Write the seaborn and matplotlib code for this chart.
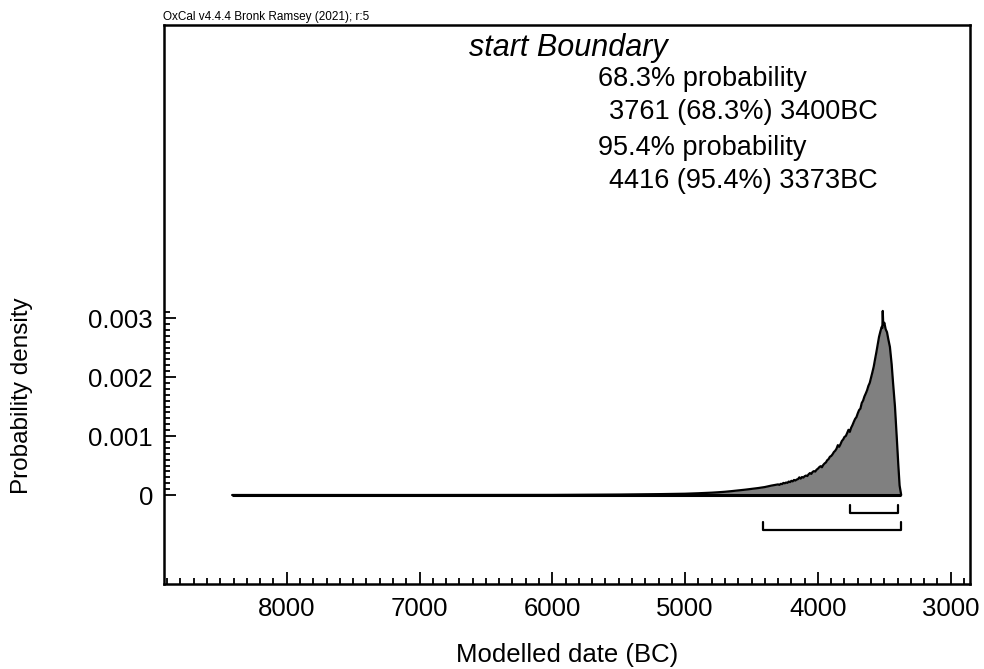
import numpy as np
import pandas as pd
import matplotlib
matplotlib.use("Agg")
import matplotlib.pyplot as plt
from matplotlib.ticker import FixedLocator, FixedFormatter
import seaborn as sns

# ---------------- data ----------------
years = [8411, 7500, 7000, 6500, 6000, 5500, 5200, 5000, 4900, 4800, 4750, 4700,
         4650, 4600, 4550, 4500, 4450, 4400, 4350,
         4300, 4290, 4280, 4270, 4260, 4250, 4240, 4230, 4220, 4210,
         4200, 4190, 4180, 4170, 4160, 4150, 4140, 4130, 4120, 4110,
         4100, 4090, 4080, 4070, 4060, 4050, 4040, 4030, 4020, 4010,
         4000, 3990, 3980, 3970, 3960, 3950, 3940, 3930, 3920, 3910,
         3900, 3890, 3880, 3870, 3860, 3850, 3840, 3830, 3820, 3810,
         3800, 3790, 3780, 3770, 3760, 3750, 3740, 3730, 3720, 3710,
         3700, 3690, 3680, 3670, 3660, 3650, 3640, 3630, 3620, 3610,
         3600, 3590, 3580, 3570, 3560, 3550, 3540, 3530, 3520, 3515,
         3512, 3508, 3500, 3490, 3480, 3470, 3458, 3445, 3435, 3420,
         3405, 3395, 3385, 3373]
density = [0.0, 0.0, 0.0, 0.000001, 0.000002, 0.000008, 0.000015, 0.000022,
           0.00003, 0.00004, 0.000047, 0.000055, 0.000066, 0.000078, 0.00009,
           0.000104, 0.000118, 0.000135, 0.00016,
           0.000180, 0.000172, 0.000190, 0.000185, 0.000205, 0.000198, 0.000212,
           0.000206, 0.000228, 0.000219,
           0.000240, 0.000232, 0.000255, 0.000246, 0.000262, 0.000270, 0.000300,
           0.000278, 0.000305, 0.000296,
           0.000318, 0.000330, 0.000322, 0.000352, 0.000372, 0.000358, 0.000392,
           0.000405, 0.000398, 0.000430,
           0.000446, 0.000472, 0.000488, 0.000470, 0.000510, 0.000535, 0.000552,
           0.000590, 0.000608, 0.000648,
           0.000662, 0.000690, 0.000728, 0.000750, 0.000785, 0.000845, 0.000818,
           0.000862, 0.000915, 0.000942,
           0.000985, 0.001000, 0.001050, 0.001105, 0.001070, 0.001140, 0.001185,
           0.001240, 0.001290, 0.001320,
           0.001385, 0.001440, 0.001465, 0.001560, 0.001600, 0.001670, 0.001720,
           0.001775, 0.001850, 0.001900,
           0.001990, 0.002080, 0.002175, 0.002300, 0.002420, 0.002550, 0.002680,
           0.002770, 0.002850, 0.002830,
           0.003120, 0.002880, 0.002920, 0.002810, 0.002760, 0.002640, 0.002510,
           0.002220, 0.001920, 0.001500,
           0.000920, 0.000520, 0.000160, 0.0]

hpd68 = [3761, 3400]
hpd95 = [4416, 3373]

x_major = [8000, 7000, 6000, 5000, 4000, 3000]
x_major_labels = ["8000", "7000", "6000", "5000", "4000", "3000"]
y_major = [0.0, 0.001, 0.002, 0.003]
y_major_labels = ["0", "0.001", "0.002", "0.003"]

title = "start Boundary"
info_lines = ["68.3% probability", "3761 (68.3%) 3400BC",
              "95.4% probability", "4416 (95.4%) 3373BC"]
credit = "OxCal v4.4.4 Bronk Ramsey (2021); r:5"
xlabel = "Modelled date (BC)"
ylabel = "Probability density"

# ---------------- style ----------------
sns.set_theme(style="white")
plt.rcParams["font.family"] = ["Liberation Sans", "DejaVu Sans"]
plt.rcParams["axes.edgecolor"] = "black"
plt.rcParams["text.color"] = "black"

W, H = 984, 669
fig = plt.figure(figsize=(W / 100, H / 100), dpi=100)
fig.patch.set_facecolor("white")


def px(x, y):
    return x / W, 1 - y / H


ax = fig.add_axes([164 / W, 1 - 584 / H, (970 - 164) / W, (584 - 25) / H])
ax.set_facecolor("white")

df = pd.DataFrame({"year": years, "density": density})
ax.fill_between(df["year"], 0, df["density"], color="#808080", linewidth=0, zorder=2)
sns.lineplot(data=df, x="year", y="density", ax=ax, color="black",
             linewidth=1.6, zorder=3, estimator=None, sort=False)
ax.plot([years[0], years[-1]], [0, 0], color="black", linewidth=2.2, zorder=3,
        solid_capstyle="butt")

# HPD brackets
for rng, (top, bot) in [(hpd68, (-0.000165, -0.000305)), (hpd95, (-0.000455, -0.000595))]:
    ax.plot([rng[0], rng[0], rng[1], rng[1]], [top, bot, bot, top],
            color="black", linewidth=1.6, zorder=3)

ax.set_xlim(8924, 2855)
ax.set_ylim(-0.001508, 0.007966)

ax.xaxis.set_major_locator(FixedLocator(x_major))
ax.xaxis.set_major_formatter(FixedFormatter(x_major_labels))
ax.xaxis.set_minor_locator(FixedLocator(np.arange(2900, 8901, 100)))
ax.yaxis.set_major_locator(FixedLocator(y_major))
ax.yaxis.set_major_formatter(FixedFormatter(y_major_labels))
ax.yaxis.set_minor_locator(FixedLocator(np.arange(0, 0.00315, 0.0001)))

ax.tick_params(axis="both", which="major", direction="in", length=8.5, width=1.3,
               color="black", labelsize=18.5, labelcolor="black")
ax.tick_params(axis="both", which="minor", direction="in", length=4.2, width=1.3,
               color="black")
ax.tick_params(axis="x", which="both", bottom=True, top=False, pad=9)
ax.tick_params(axis="y", which="both", left=True, right=False, pad=8)

for s in ax.spines.values():
    s.set_linewidth(1.8)
    s.set_color("black")
    s.set_visible(True)

ax.set_xlabel("")
ax.set_ylabel("")

fig.text(*px(567, 655), xlabel, ha="center", va="center", fontsize=18.5)
fig.text(*px(22, 396), ylabel, ha="center", va="center", rotation=90, fontsize=17.5)
fig.text(*px(163, 20), credit, ha="left", va="baseline", fontsize=8.5)
fig.text(*px(568, 48), title, ha="center", va="center", fontsize=22, style="italic")
for line, xx, yy in zip(info_lines, [598, 609, 598, 609], [79, 112, 148, 181]):
    fig.text(*px(xx, yy), line, ha="left", va="center", fontsize=19.5)

fig.savefig("out.png", dpi=100, facecolor="white")
